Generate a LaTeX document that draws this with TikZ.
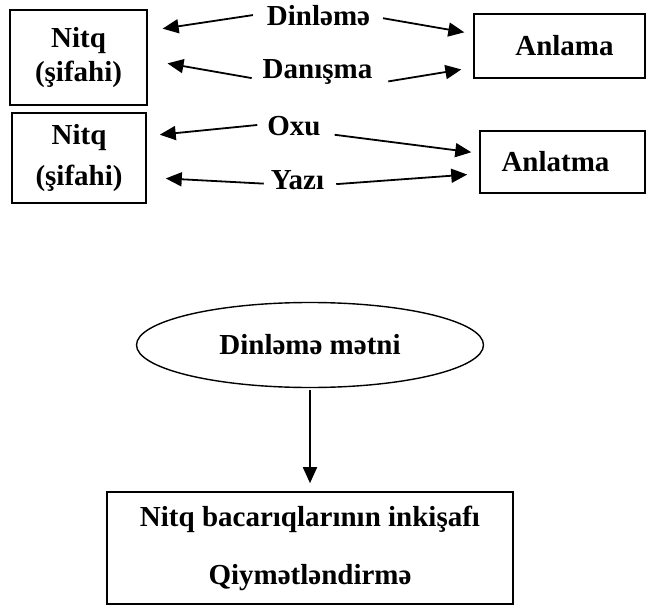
\documentclass[tikz,border=0pt]{standalone}
\usepackage{fontspec}
\setmainfont{Liberation Serif}
\usepackage{tikz}
\usetikzlibrary{arrows.meta,shapes.geometric}
\tikzset{
    block/.style = {
        draw,
        shape=rectangle,
        line width=1.6pt,
        inner sep=0pt,
        align=center,
        font=\fontsize{29}{34}\selectfont\bfseries
    },
    oval/.style = {
        draw,
        shape=ellipse,
        line width=1.4pt,
        inner sep=0pt,
        font=\fontsize{29}{34}\selectfont\bfseries
    },
    lbl/.style = {
        shape=rectangle,
        inner sep=0pt,
        text height=0.7em,
        text depth=0.2em,
        font=\fontsize{29}{34}\selectfont\bfseries
    },
    link/.style = {
        draw,
        line width=1.8pt
    },
    >={Triangle[length=16pt,width=14pt]},
}
\begin{document}
\begin{tikzpicture}[x=1pt,y=-1pt]
                \useasboundingbox (0,0) rectangle (646,610);
                \node[block,minimum width=137pt,minimum height=95pt] (nitqA) at (78.5,57.5) {Nitq\\(şifahi)};
                \node[block,minimum width=134pt,minimum height=90pt] (nitqB) at (79,158) {Nitq\\[7pt](şifahi)};
                \node[block,minimum width=171pt,minimum height=64pt] (anlama) at (559.5,46) {\hspace*{10pt}Anlama};
                \node[block,minimum width=165pt,minimum height=62pt] (anlatma) at (562.5,162) {Anlatma\hspace*{14pt}};

                \node[lbl] (dinleme) at (318.5,23) {Dinləmə};
                \node[lbl] (danisma) at (317.5,76) {Danışma};
                \node[lbl] (oxu) at (294,133) {Oxu};
                \node[lbl] (yazi) at (297.5,187) {Yazı};

                \node[oval,minimum width=347pt,minimum height=85pt] (metn) at (310,345) {Dinləmə mətni};
                \node[block,minimum width=406pt,minimum height=112pt] (bacariq) at (310,548) {Nitq bacarıqlarının inkişafı\\[24pt]Qiymətləndirmə};

                \path[link, ->, shorten <=14pt, shorten >=15pt] ([yshift=10pt]dinleme.west) -- (nitqA.21);
                \path[link, ->, shorten <=13pt, shorten >=9pt] ([yshift=7pt]dinleme.east) -- (anlama.172);
                \path[link, ->, shorten <=11pt, shorten >=20pt] ([yshift=-4pt]danisma.west) -- (nitqA.-2);
                \path[link, ->, shorten <=16pt, shorten >=12pt] ([yshift=-8pt]danisma.east) -- (anlama.194);
                \path[link, ->, shorten <=10pt, shorten >=13pt] ([yshift=9pt]oxu.west) -- (nitqB.18);
                \path[link, ->, shorten <=14pt, shorten >=8pt] (oxu.east) -- (anlatma.174);
                \path[link, ->, shorten <=7pt, shorten >=19pt] ([yshift=3pt]yazi.west) -- (nitqB.-16);
                \path[link, ->, shorten <=12pt, shorten >=12pt] ([yshift=2pt]yazi.east) -- (anlatma.188);

                \path[link, ->, shorten <=2pt, shorten >=8pt] (metn) -- (bacariq);
\end{tikzpicture}
\end{document}
